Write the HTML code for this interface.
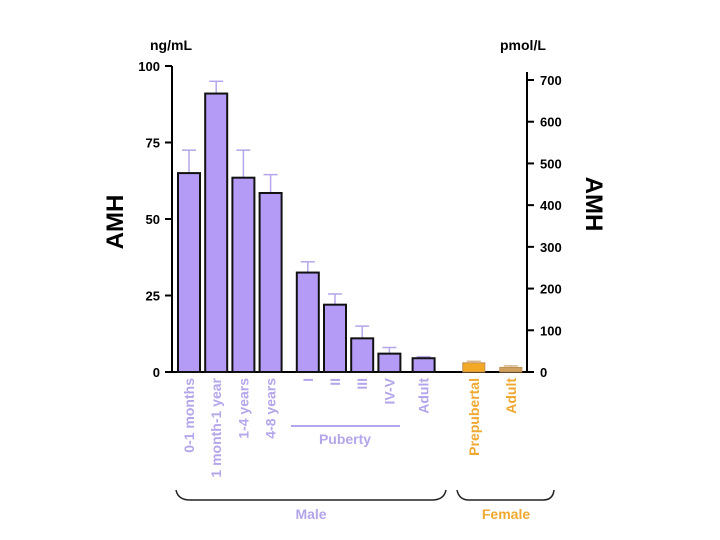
<!DOCTYPE html>
<html><head><meta charset="utf-8"><style>
body{margin:0;background:#fff;}
svg{display:block;font-family:"Liberation Sans",Arial,sans-serif;font-weight:bold;}
</style></head><body>
<svg id="c" width="720" height="540"></svg>
<script>
const categories=["0-1 months","1 month-1 year","1-4 years","4-8 years","I","II","III","IV-V","Adult","Prepubertal","Adult"];
const groupIdx=[0,0,0,0,1,1,1,1,2,3,3];
const values=[65,91,63.5,58.5,32.5,22,11,6,4.5,3,1.5];
const errTops=[72.5,95,72.5,64.5,36,25.5,15,8,5,3.5,2];
const leftTicks=[0,25,50,75,100];
const rightTicks=[0,100,200,300,400,500,600,700];
const NS="http://www.w3.org/2000/svg";
const svg=document.getElementById('c');
function el(t,a,p){const e=document.createElementNS(NS,t);for(const k in a)e.setAttribute(k,a[k]);(p||svg).appendChild(e);return e;}
const y0=372,y1=66;
const yL=v=>y0-(v/100)*(y0-y1);
const yR=v=>y0-(v/700)*(y0-80);
const groupOff=[0,10,17,40];
function xC(i){
  if(groupIdx[i]===3){const first=groupIdx.indexOf(3);return 189+first*27.2+groupOff[3]+(i-first)*37;}
  return 189+i*27.2+groupOff[groupIdx[i]];
}
const bw=22;
const purple="#b5a5ea",fillP="#b49cf6";
let t=el('text',{x:150,y:50,'font-size':14,fill:'#000'});t.textContent='ng/mL';

t=el('text',{x:500,y:50,'font-size':14,fill:'#000'});t.textContent='pmol/L';

t=el('text',{x:0,y:0,'font-size':24,fill:'#000','text-anchor':'middle',transform:'translate(123,222) rotate(-90)'});t.textContent='AMH';

t=el('text',{x:0,y:0,'font-size':24,fill:'#000','text-anchor':'middle',transform:'translate(586,204) rotate(90)'});t.textContent='AMH';

let a=el('line',{x1:172,y1:y1,x2:172,y2:y0,stroke:'#000','stroke-width':2});

a=el('line',{x1:527,y1:72,x2:527,y2:y0,stroke:'#000','stroke-width':2});

a=el('line',{x1:165,y1:y0,x2:533,y2:y0,stroke:'#000','stroke-width':2});

leftTicks.forEach(v=>{const y=yL(v);
 const l=el('line',{x1:165,y1:y,x2:172,y2:y,stroke:'#000','stroke-width':2});
 
 const tx=el('text',{x:160,y:y+5,'font-size':13,'text-anchor':'end'});tx.textContent=v;
 });
rightTicks.forEach(v=>{const y=yR(v);
 const l=el('line',{x1:527,y1:y,x2:534,y2:y,stroke:'#000','stroke-width':2});
 
 const tx=el('text',{x:540,y:y+5,'font-size':13});tx.textContent=v;
 });
values.forEach((v,i)=>{const x=xC(i);const fem=groupIdx[i]==3;
 const fill=fem?(i==9?'#f3a826':'#d0a060'):fillP;
 const ec=fem?'#d8b890':purple;
 const e1=el('line',{x1:x,y1:yL(errTops[i]),x2:x,y2:yL(v),stroke:ec,'stroke-width':1.5});
 
 const e2=el('line',{x1:x-7,y1:yL(errTops[i]),x2:x+7,y2:yL(errTops[i]),stroke:ec,'stroke-width':1.5});
 
 const r=el('rect',{x:x-bw/2,y:yL(v),width:bw,height:y0-yL(v),fill:fill,stroke:fem?'#c09050':'#111','stroke-width':fem?1:2});
 
 const lab=el('text',{x:0,y:0,'font-size':14,'text-anchor':'end',fill:fem?'#f0a830':purple,transform:`translate(${x+5},378) rotate(-90)`});
 lab.textContent=categories[i];
 
});
a=el('line',{x1:291,y1:426,x2:400,y2:426,stroke:purple,'stroke-width':2});

t=el('text',{x:345,y:444,'font-size':14,'text-anchor':'middle',fill:purple});t.textContent='Puberty';

a=el('path',{d:'M176,490 Q178,500 190,500 L432,500 Q444,500 446,490',fill:'none',stroke:'#222','stroke-width':1.5});

a=el('path',{d:'M457,490 Q459,500 469,500 L543,500 Q553,500 554,490',fill:'none',stroke:'#222','stroke-width':1.5});

t=el('text',{x:311,y:519,'font-size':14,'text-anchor':'middle',fill:purple});t.textContent='Male';

t=el('text',{x:506,y:519,'font-size':14,'text-anchor':'middle',fill:'#f0a830'});t.textContent='Female';

</script>
</body></html>
